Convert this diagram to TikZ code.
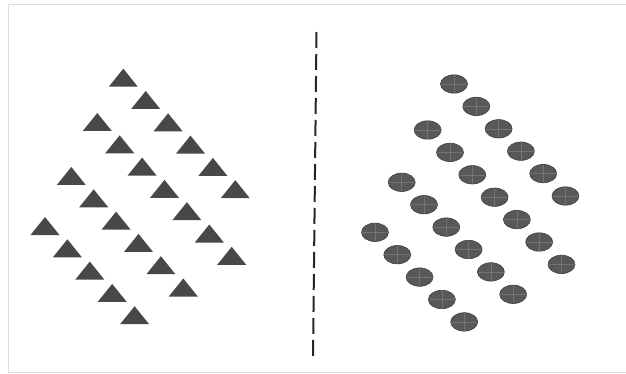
\documentclass[tikz,border=0pt]{standalone}
\usepackage{tikz}
\definecolor{ShapeGray}{RGB}{72,72,72}
\definecolor{DotGray}{RGB}{88,88,88}
\definecolor{DotEdge}{RGB}{62,62,62}
\definecolor{FrameGray}{RGB}{222,222,222}
\tikzset{
  frameline/.style={draw=FrameGray, line width=1.3pt},
  divider/.style={draw=black!85, line width=2pt, dash pattern=on 16pt off 6pt},
  trimark/.style={fill=ShapeGray},
  dotmark/.style={draw=DotEdge, line width=0.6pt},
  dotcross/.style={draw=black!55, line width=0.5pt}
}
\begin{document}
\begin{tikzpicture}[x=1pt, y=-1pt]
  \useasboundingbox[fill=white] (0,0) rectangle (626,374);
  \draw[frameline] (640,4.5) -- (8.5,4.5) -- (8.5,372.5) -- (640,372.5);
  % dashed divider
  \coordinate (divtop) at (316.5,32);
  \coordinate (divbot) at (313,357);
  \draw[divider] (divtop) -- (divbot);
  % triangles, four diagonal rows going down to the right
  \foreach \sx/\sy/\n in {123.3/77.7/5, 97.3/122/6, 71.3/176/5, 45/226/4}{
    \foreach \i in {0,...,\n}{
      \fill[trimark] (\sx+22.4*\i, \sy+22.3*\i-9) -- ++(14.5,18) -- ++(-29,0) -- cycle;
    }
  }
  % ellipses, same layout on the right
  \foreach \sx/\sy/\n in {454/84/5, 427.7/130/6, 401.7/182.3/5, 375/232.3/4}{
    \foreach \i in {0,...,\n}{
      \coordinate (dot) at (\sx+22.3*\i, \sy+22.4*\i);
      \begin{scope}
        \clip (dot) ellipse [x radius=13.5, y radius=9.2];
        \fill[DotGray] (dot) ellipse [x radius=13.5, y radius=9.2];
        \draw[dotcross] ([xshift=-14pt]dot) -- ([xshift=14pt]dot)
          ([yshift=-10pt]dot) -- ([yshift=10pt]dot);
      \end{scope}
      \draw[dotmark] (dot) ellipse [x radius=13.5, y radius=9.2];
    }
  }
\end{tikzpicture}
\end{document}
